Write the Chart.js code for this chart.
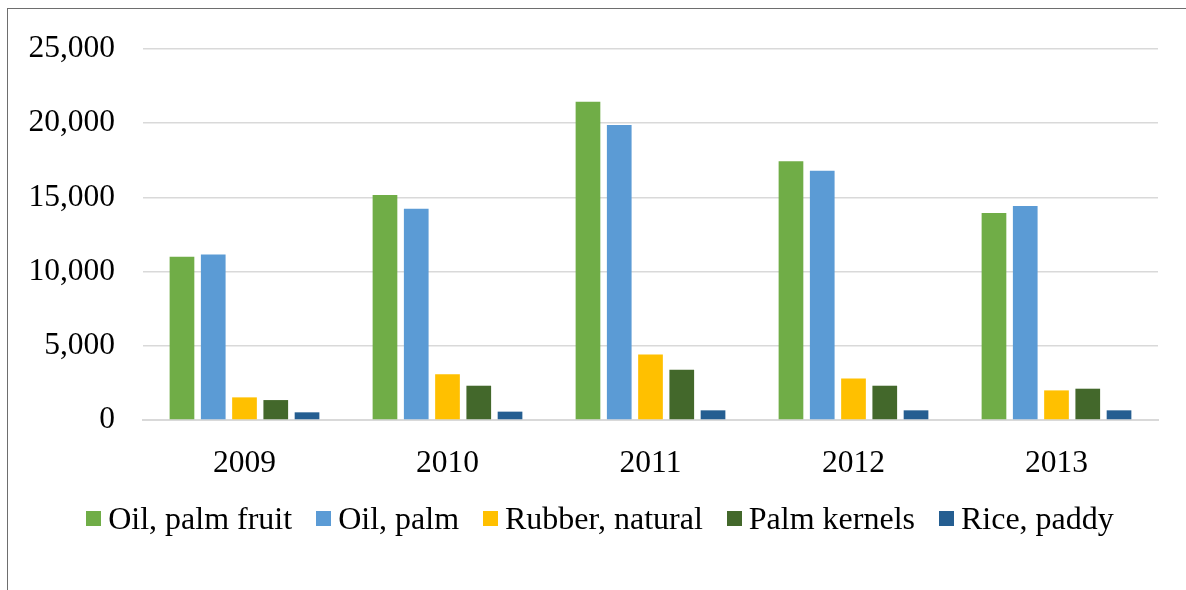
<!DOCTYPE html>
<html lang="en">
  <head>
    <meta charset="UTF-8" />
    <title>Crop production 2009-2013</title>
    <script src="https://cdn.jsdelivr.net/npm/chart.js"></script>
    <style>
      body {
        margin: 0;
        background: white;
        font-family: "Liberation Serif", "Times New Roman", serif;
        overflow: hidden;
      }
      .frame {
        position: absolute;
        left: 7px;
        top: 8px;
        width: 1200px;
        height: 600px;
        border-left: 1px solid #6e6e6e;
        border-top: 1px solid #6e6e6e;
      }
      #barChart {
        position: absolute;
        left: 0;
        top: 0;
      }
      .legend {
        position: absolute;
        left: 0;
        top: 500px;
        width: 1200px;
        display: flex;
        justify-content: center;
        font-size: 32px;
        color: #000;
      }
      .legend-item {
        display: flex;
        align-items: center;
        margin-right: 24px;
      }
      .legend-item:last-child {
        margin-right: 0;
      }
      .legend-color {
        width: 15px;
        height: 15px;
        margin-right: 7px;
      }
    </style>
  </head>
  <body>
    <div class="frame"></div>
    <canvas id="barChart" width="1186" height="590"></canvas>
    <div class="legend" id="chartLegend"></div>

    <script>
      const years = ["2009", "2010", "2011", "2012", "2013"];
      const seriesNames = ["Oil, palm fruit", "Oil, palm", "Rubber, natural", "Palm kernels", "Rice, paddy"];
      const oilPalmFruit = [11000, 15160, 21450, 17440, 13950];
      const oilPalm = [11150, 14240, 19880, 16790, 14420];
      const rubberNatural = [1525, 3090, 4410, 2800, 1995];
      const palmKernels = [1343, 2310, 3380, 2310, 2109];
      const ricePaddy = [517, 563, 651, 651, 651];
      const colors = ["#70AD47", "#5B9BD5", "#FFC000", "#43682B", "#255E91"];

      const values = [oilPalmFruit, oilPalm, rubberNatural, palmKernels, ricePaddy];

      const font = { family: "'Liberation Serif', 'Times New Roman', serif", size: 31.5 };

      const data = {
        labels: years,
        datasets: seriesNames.map((name, i) => ({
          label: name,
          data: values[i],
          backgroundColor: colors[i],
          categoryPercentage: 0.77,
          barPercentage: 0.79,
        })),
      };

      const config = {
        type: "bar",
        data: data,
        options: {
          responsive: false,
          animation: false,
          layout: { padding: { top: 49, right: 28, left: 0, bottom: 0 } },
          plugins: {
            legend: { display: false },
            tooltip: { enabled: false },
          },
          scales: {
            x: {
              grid: { display: false },
              border: { color: "#D9D9D9", width: 2 },
              ticks: { color: "#000", font: font, padding: 17 },
              afterFit: (scale) => {
                scale.height = 170;
              },
            },
            y: {
              min: 0,
              max: 25000,
              ticks: { stepSize: 5000, color: "#000", font: font, padding: 28 },
              grid: { color: "#D9D9D9", lineWidth: 1.5, drawTicks: false },
              border: { display: false },
              afterFit: (scale) => {
                scale.width = 143;
              },
            },
          },
        },
      };

      new Chart(document.getElementById("barChart"), config);

      // legend like the original
      const legendContainer = document.getElementById("chartLegend");
      seriesNames.forEach((label, index) => {
        const legendItem = document.createElement("div");
        legendItem.classList.add("legend-item");
        legendItem.innerHTML = `<div class="legend-color" style="background-color: ${colors[index]};"></div>${label}`;
        legendContainer.appendChild(legendItem);
      });
    </script>
  </body>
</html>
